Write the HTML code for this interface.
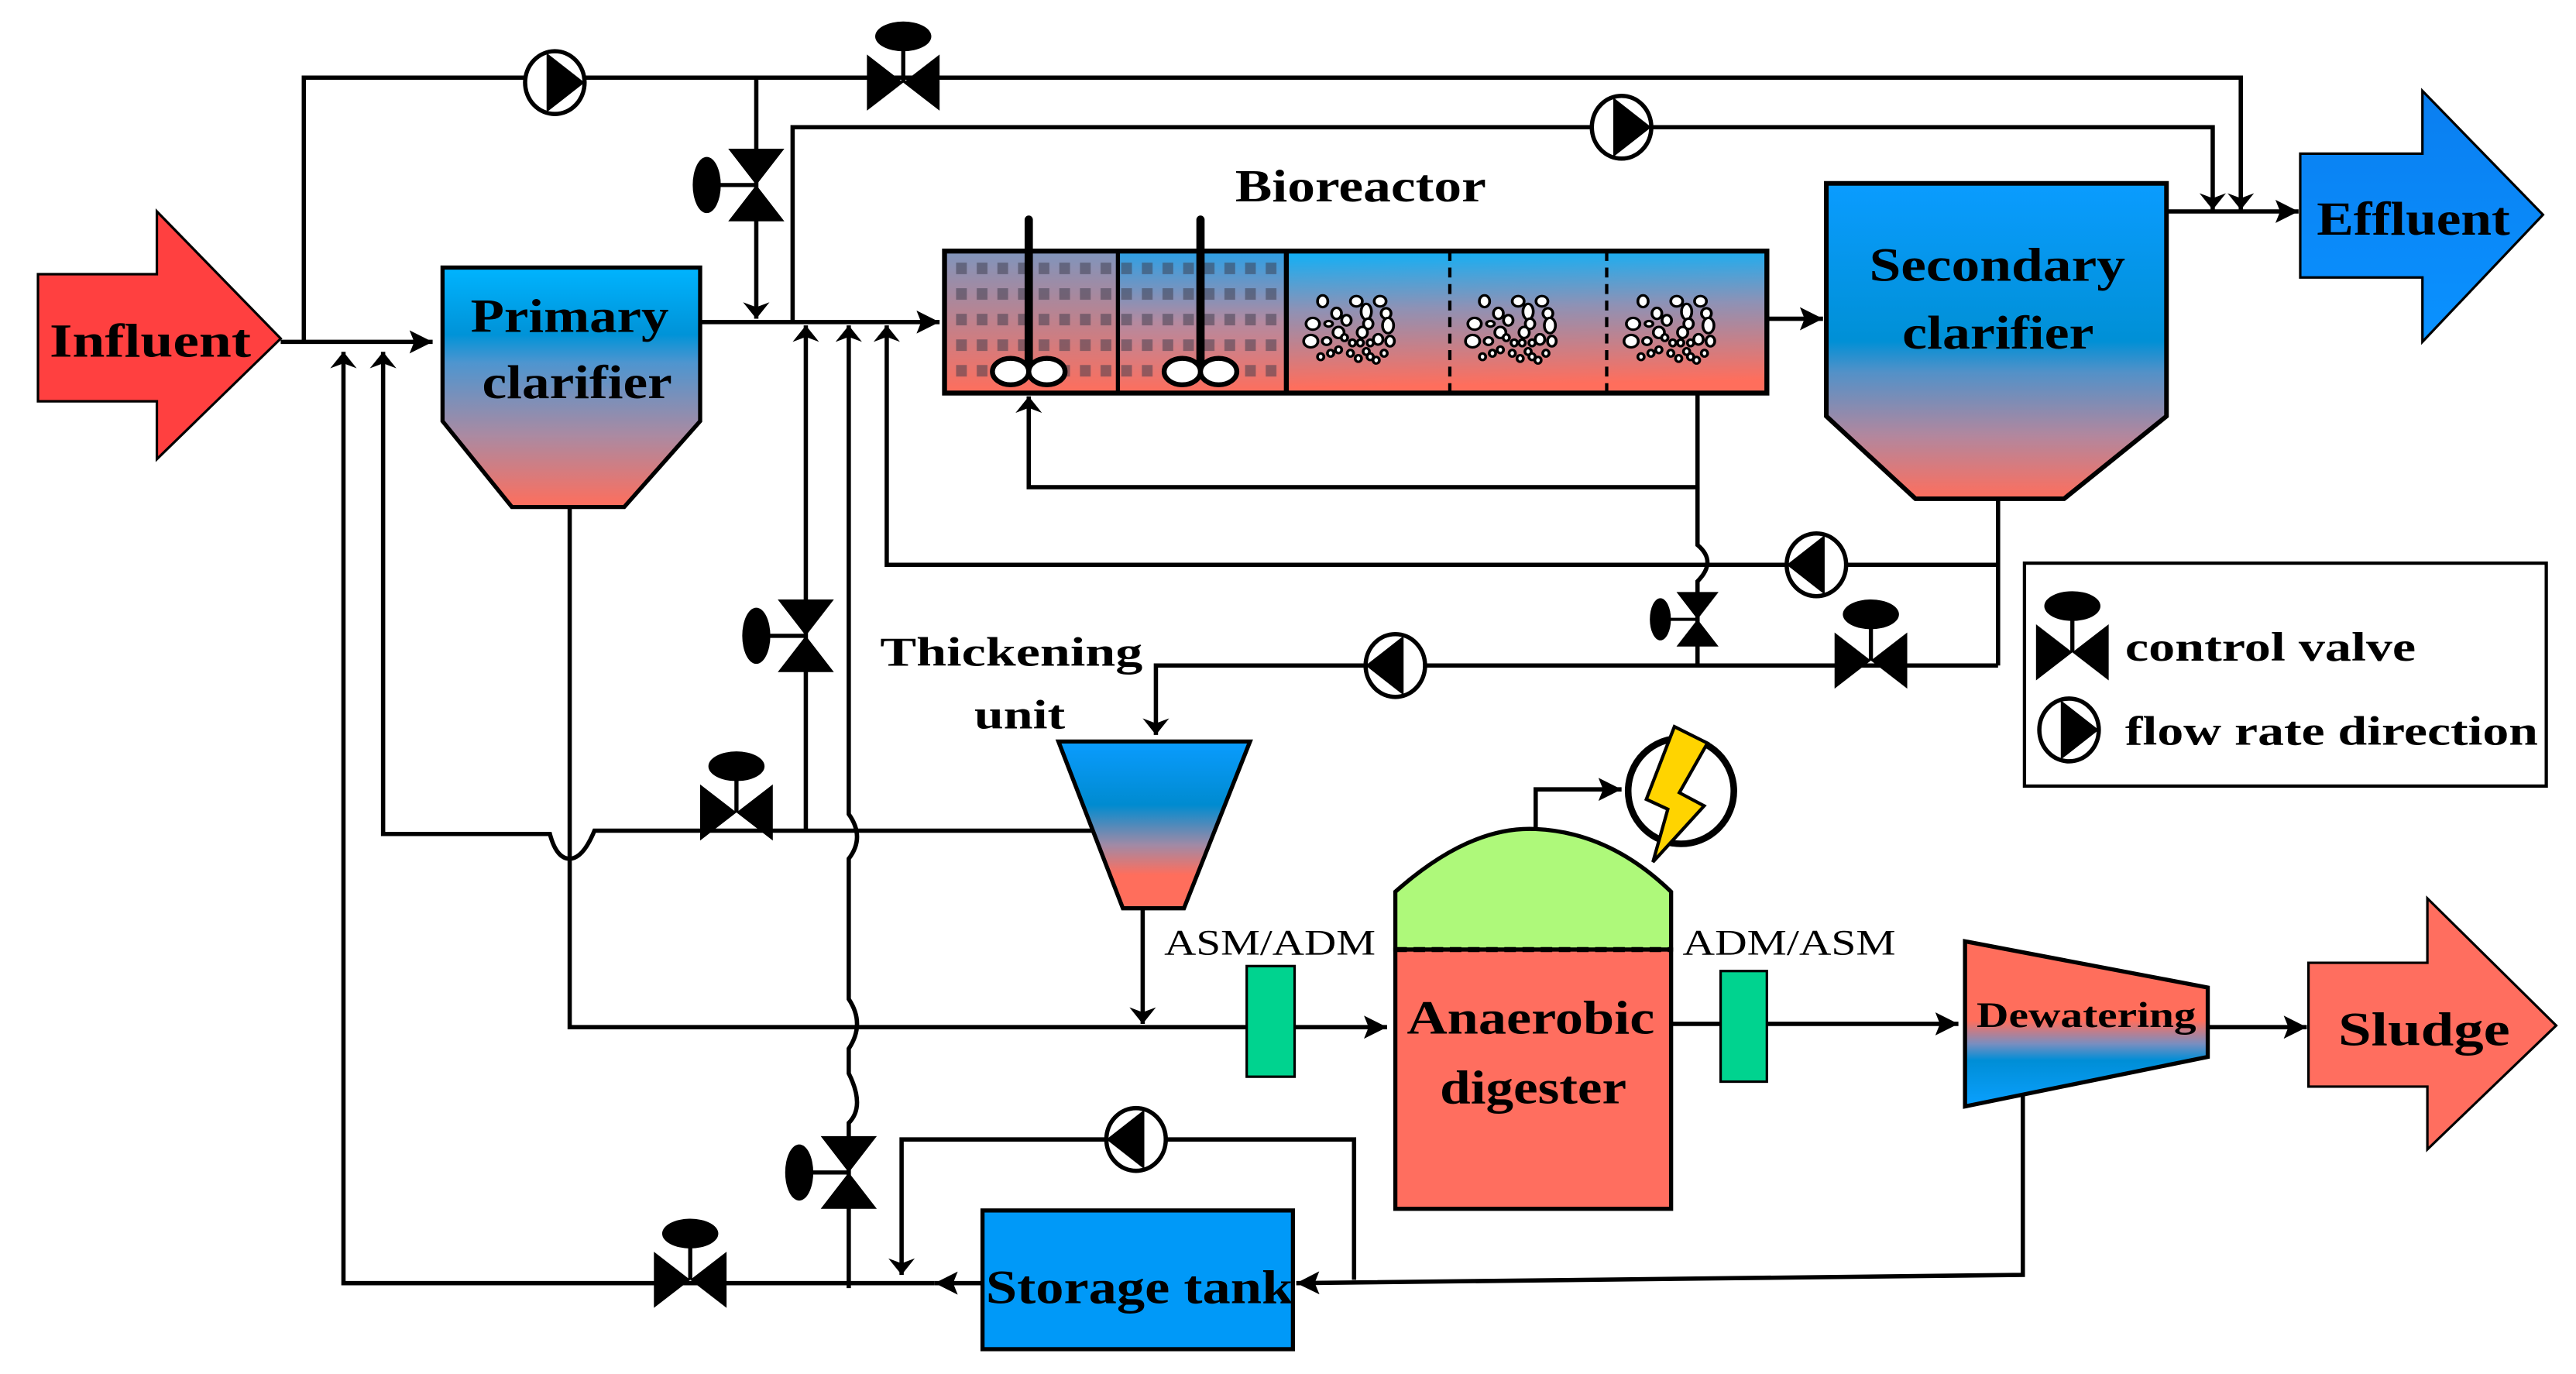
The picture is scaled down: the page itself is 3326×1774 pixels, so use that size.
<!DOCTYPE html>
<html><head><meta charset="utf-8"><style>
html,body{margin:0;padding:0;background:#fff;}
svg{display:block;}
text{font-family:"Liberation Serif",serif;font-weight:bold;fill:#000;}
</style></head><body>
<svg width="3326" height="1774" viewBox="0 0 1560 832" xmlns="http://www.w3.org/2000/svg">
<defs>
<marker id="ah" viewBox="0 0 10 10" refX="10" refY="5" markerWidth="7" markerHeight="7" markerUnits="userSpaceOnUse" orient="auto"><path d="M0,0 L10,5 L0,10 L3,5 z" fill="#000"/></marker>
<marker id="ab" viewBox="0 0 10 10" refX="10" refY="5" markerWidth="14" markerHeight="14" markerUnits="userSpaceOnUse" orient="auto"><path d="M0,0 L10,5 L0,10 L2,5 z" fill="#000"/></marker>
<marker id="an" viewBox="0 0 10 10" refX="10" refY="5" markerWidth="10" markerHeight="16" markerUnits="userSpaceOnUse" orient="auto" preserveAspectRatio="none"><path d="M0,0 L10,5 L0,10 L3,5 z" fill="#000"/></marker>
<linearGradient id="gpc" x1="0" y1="0" x2="0" y2="1"><stop offset="0" stop-color="#00b4ff"/><stop offset="0.28" stop-color="#0093d8"/><stop offset="0.4" stop-color="#4f95cf"/><stop offset="0.7" stop-color="#aa8aa2"/><stop offset="1" stop-color="#ff6e5c"/></linearGradient>
<linearGradient id="gsc" x1="0" y1="0" x2="0" y2="1"><stop offset="0" stop-color="#0a9cff"/><stop offset="0.5" stop-color="#0090d6"/><stop offset="0.6" stop-color="#5391c8"/><stop offset="0.8" stop-color="#b2879e"/><stop offset="1" stop-color="#ff6e5c"/></linearGradient>
<linearGradient id="gbr" x1="0" y1="0" x2="0.1" y2="1"><stop offset="0" stop-color="#00b4ff"/><stop offset="0.45" stop-color="#8d92b6"/><stop offset="1" stop-color="#ff6e5c"/></linearGradient>
<linearGradient id="gbr1" x1="0" y1="0" x2="0" y2="1"><stop offset="0" stop-color="#7f95bd"/><stop offset="1" stop-color="#ff6e5c"/></linearGradient>
<linearGradient id="gbr2" x1="0" y1="0" x2="0" y2="1"><stop offset="0" stop-color="#2ba0e6"/><stop offset="0.5" stop-color="#b48aa0"/><stop offset="1" stop-color="#ff6e5c"/></linearGradient>
<linearGradient id="gth" x1="0" y1="0" x2="0" y2="1"><stop offset="0" stop-color="#0a9cff"/><stop offset="0.38" stop-color="#008bd0"/><stop offset="0.62" stop-color="#a08aa6"/><stop offset="0.8" stop-color="#ff6e5c"/><stop offset="1" stop-color="#ff6e5c"/></linearGradient>
<linearGradient id="gdw" x1="0" y1="0" x2="0" y2="1"><stop offset="0" stop-color="#ff6e5c"/><stop offset="0.48" stop-color="#ff6e5c"/><stop offset="0.62" stop-color="#7a8ec0"/><stop offset="0.72" stop-color="#008ed6"/><stop offset="1" stop-color="#0aa0ff"/></linearGradient>
<linearGradient id="gef" x1="0" y1="0" x2="0" y2="1"><stop offset="0" stop-color="#0a7ef0"/><stop offset="1" stop-color="#0a92ff"/></linearGradient>
<pattern id="sq" x="577" y="156" width="12.5" height="15.5" patternUnits="userSpaceOnUse"><rect x="2" y="3" width="6.5" height="7" fill="#3a3a4a" opacity="0.5"/></pattern>
<g id="bub" fill="#fff" stroke="#000" stroke-width="1.4">
<ellipse cx="-25" cy="-12" rx="2.6" ry="3.4"/><ellipse cx="-8" cy="-12" rx="3" ry="3"/><ellipse cx="4" cy="-12" rx="3" ry="3"/><ellipse cx="-18" cy="-5" rx="2.5" ry="3.2"/><ellipse cx="-3" cy="-6" rx="2.6" ry="4.5"/><ellipse cx="7" cy="-5" rx="2.5" ry="3"/><ellipse cx="8" cy="2" rx="2.8" ry="4.4"/><ellipse cx="-30" cy="1" rx="3.4" ry="3.4"/><ellipse cx="-22" cy="1" rx="2" ry="1.6"/><ellipse cx="-13" cy="-1" rx="2.4" ry="3"/><ellipse cx="-2" cy="1" rx="2.4" ry="3"/><ellipse cx="-17" cy="6" rx="2.8" ry="3.2"/><ellipse cx="-5" cy="6" rx="2.6" ry="3.2"/><ellipse cx="-31" cy="11" rx="3.6" ry="3.6"/><ellipse cx="-23" cy="11" rx="2.2" ry="2.2"/><ellipse cx="-14" cy="9" rx="1.6" ry="1.9"/><ellipse cx="-10" cy="12" rx="1.6" ry="1.9"/><ellipse cx="-6" cy="12" rx="1.6" ry="1.9"/><ellipse cx="-1" cy="12" rx="1.6" ry="1.9"/><ellipse cx="3" cy="10" rx="2.4" ry="3"/><ellipse cx="9" cy="11" rx="2.2" ry="3"/><ellipse cx="-17" cy="16" rx="1.6" ry="1.9"/><ellipse cx="-11" cy="18" rx="1.6" ry="1.9"/><ellipse cx="-3" cy="17" rx="1.6" ry="1.9"/><ellipse cx="6" cy="18" rx="1.6" ry="1.9"/><ellipse cx="-26" cy="20" rx="1.6" ry="1.9"/><ellipse cx="-21" cy="18" rx="1.6" ry="1.9"/><ellipse cx="-7" cy="21" rx="1.6" ry="1.9"/><ellipse cx="-1" cy="20" rx="1.6" ry="1.9"/><ellipse cx="2" cy="22" rx="1.6" ry="1.9"/>
</g>
<g id="vh"><path d="M-22,-17 L0,0 L-22,17 Z M22,-17 L0,0 L22,17 Z" fill="#000"/><line x1="0" y1="0" x2="0" y2="-24" stroke="#000" stroke-width="2.5"/><ellipse cx="0" cy="-28" rx="17" ry="9" fill="#000"/></g>
<g id="vv"><path d="M-17,-22 L0,0 L17,-22 Z M-17,22 L0,0 L17,22 Z" fill="#000"/><line x1="0" y1="0" x2="-26" y2="0" stroke="#000" stroke-width="2.5"/><ellipse cx="-30" cy="0" rx="8.5" ry="17" fill="#000"/></g>
<g id="pr"><ellipse cx="0" cy="0" rx="18" ry="19" fill="#fff" stroke="#000" stroke-width="2.6"/><path d="M-5,-18 L18,0 L-5,18 Z" fill="#000"/></g>
</defs>

<g fill="none" stroke="#000" stroke-width="2.6">
<path d="M170,207 H262" marker-end="url(#ab)"/>
<path d="M184,207 V47 H1357 V127" marker-end="url(#an)"/>
<path d="M424,195 H569" marker-end="url(#ab)"/>
<path d="M458,47 V193" marker-end="url(#an)"/>
<path d="M480,195 V77 H1340 V127" marker-end="url(#an)"/>
<path d="M1312,128 H1392" marker-end="url(#ab)"/>
<path d="M1070,193 H1104" marker-end="url(#ab)"/>
<path d="M1028,238 V295 H623 V240" marker-end="url(#an)"/>
<path d="M1028,295 V330 Q1040,340 1028,352 V402"/>
<path d="M1210,302 V403"/>
<path d="M1210,342 H537 V197" marker-end="url(#an)"/>
<path d="M1210,403 H700 V445" marker-end="url(#an)"/>
<path d="M680,503 H360 Q353,520 345,520 Q337,520 333,505 H232 V213" marker-end="url(#an)"/>
<path d="M488,503 V197" marker-end="url(#an)"/>
<path d="M514,780 V680 Q524,670 514,650 V635 Q524,620 514,605 V520 Q524,507 514,493 V197" marker-end="url(#an)"/>
<path d="M345,307 V622 H840" marker-end="url(#ab)"/>
<path d="M692,550 V620" marker-end="url(#an)"/>
<path d="M1012,620 H1186" marker-end="url(#ab)"/>
<path d="M1337,622 H1397" marker-end="url(#ab)"/>
<path d="M930,516 V478 H982" marker-end="url(#ab)"/>
<path d="M1225,660 V772 L785,777" marker-end="url(#ab)"/>
<path d="M820,775 V690 H546 V772" marker-end="url(#an)"/>
<path d="M595,777 H566" marker-end="url(#ab)"/>
<path d="M566,777 H208 V213" marker-end="url(#an)"/>
</g>

<path d="M23,166 H95 V128 L170,205 L95,278 V243 H23 Z" fill="#ff4040" stroke="#000" stroke-width="1.5"/>
<text x="30" y="216" font-size="29" textLength="122" lengthAdjust="spacingAndGlyphs">Influent</text>

<path d="M268,162 H424 V255 L378,307 H310 L268,255 Z" fill="url(#gpc)" stroke="#000" stroke-width="2.5"/>
<text x="285" y="201" font-size="29" textLength="120" lengthAdjust="spacingAndGlyphs">Primary</text>
<text x="292" y="241" font-size="29" textLength="115" lengthAdjust="spacingAndGlyphs">clarifier</text>

<text x="748" y="122" font-size="28" textLength="152" lengthAdjust="spacingAndGlyphs">Bioreactor</text>
<rect x="572" y="152" width="498" height="86" fill="url(#gbr)"/>
<rect x="572" y="152" width="105" height="86" fill="url(#gbr1)"/>
<rect x="677" y="152" width="102" height="86" fill="url(#gbr2)"/>
<rect x="574" y="154" width="203" height="82" fill="url(#sq)"/>
<use href="#bub" transform="translate(831,195) scale(1.2,1.05)"/>
<use href="#bub" transform="translate(929,195) scale(1.2,1.05)"/>
<use href="#bub" transform="translate(1025,195) scale(1.2,1.05)"/>
<rect x="572" y="152" width="498" height="86" fill="none" stroke="#000" stroke-width="3"/>
<line x1="677" y1="152" x2="677" y2="238" stroke="#000" stroke-width="2.5"/>
<line x1="779" y1="152" x2="779" y2="238" stroke="#000" stroke-width="3"/>
<line x1="878" y1="152" x2="878" y2="238" stroke="#000" stroke-width="2" stroke-dasharray="6,4"/>
<line x1="973" y1="152" x2="973" y2="238" stroke="#000" stroke-width="2" stroke-dasharray="6,4"/>
<line x1="623" y1="133" x2="623" y2="224" stroke="#000" stroke-width="5" stroke-linecap="round"/>
<line x1="727" y1="133" x2="727" y2="224" stroke="#000" stroke-width="5" stroke-linecap="round"/>
<g fill="#fff" stroke="#000" stroke-width="3">
<ellipse cx="612" cy="225" rx="11" ry="8"/><ellipse cx="634" cy="225" rx="11" ry="8"/>
<ellipse cx="716" cy="225" rx="11" ry="8"/><ellipse cx="738" cy="225" rx="11" ry="8"/>
</g>

<path d="M1106,111 H1312 V252 L1250,302 H1160 L1106,252 Z" fill="url(#gsc)" stroke="#000" stroke-width="2.8"/>
<text x="1132" y="170" font-size="29" textLength="155" lengthAdjust="spacingAndGlyphs">Secondary</text>
<text x="1152" y="211" font-size="29" textLength="116" lengthAdjust="spacingAndGlyphs">clarifier</text>

<path d="M1393,93 H1467 V55 L1540,130 L1467,207 V168 H1393 Z" fill="url(#gef)" stroke="#000" stroke-width="1.5"/>
<text x="1403" y="142" font-size="29" textLength="117" lengthAdjust="spacingAndGlyphs">Effluent</text>

<use href="#vh" x="547" y="50"/>
<use href="#vv" x="458" y="112"/>
<use href="#vv" x="488" y="385"/>
<use href="#vh" x="446" y="492"/>
<use href="#vv" transform="translate(1028,375) scale(0.75)"/>
<use href="#vh" x="1133" y="400"/>
<use href="#vv" x="514" y="710"/>
<use href="#vh" x="418" y="775"/>

<use href="#pr" x="336" y="50"/>
<use href="#pr" x="982" y="77"/>
<use href="#pr" transform="translate(1100,342) scale(-1,1)"/>
<use href="#pr" transform="translate(845,403) scale(-1,1)"/>
<use href="#pr" transform="translate(688,690) scale(-1,1)"/>

<rect x="1226" y="341" width="316" height="135" fill="#fff" stroke="#000" stroke-width="2"/>
<use href="#vh" x="1255" y="395"/>
<text x="1287" y="400" font-size="25" textLength="176" lengthAdjust="spacingAndGlyphs">control valve</text>
<use href="#pr" x="1253" y="442"/>
<text x="1287" y="451" font-size="25" textLength="250" lengthAdjust="spacingAndGlyphs">flow rate direction</text>

<text x="533" y="403" font-size="25" textLength="159" lengthAdjust="spacingAndGlyphs">Thickening</text>
<text x="590" y="441" font-size="25" textLength="55" lengthAdjust="spacingAndGlyphs">unit</text>
<path d="M641,449 H757 L717,550 H680 Z" fill="url(#gth)" stroke="#000" stroke-width="2.5"/>

<text x="705" y="578" font-size="22" textLength="128" lengthAdjust="spacingAndGlyphs" style="font-weight:normal">ASM/ADM</text>
<rect x="755" y="585" width="29" height="67" fill="#00d38f" stroke="#000" stroke-width="1.5"/>
<text x="1019" y="578" font-size="22" textLength="129" lengthAdjust="spacingAndGlyphs" style="font-weight:normal">ADM/ASM</text>
<rect x="1042" y="588" width="28" height="67" fill="#00d38f" stroke="#000" stroke-width="1.5"/>

<path d="M845,540 Q890,500 930,502 Q975,504 1012,540 V575 H845 Z" fill="#aef97a" stroke="#000" stroke-width="2.5"/>
<rect x="845" y="575" width="167" height="157" fill="#ff6e5f" stroke="#000" stroke-width="2.5"/>
<line x1="845" y1="575" x2="1012" y2="575" stroke="#000" stroke-width="3" stroke-dasharray="7,4"/>
<text x="852" y="626" font-size="29" textLength="150" lengthAdjust="spacingAndGlyphs">Anaerobic</text>
<text x="872" y="668" font-size="29" textLength="113" lengthAdjust="spacingAndGlyphs">digester</text>

<circle cx="1018" cy="479" r="32" fill="#fff" stroke="#000" stroke-width="4"/>
<path d="M1014,440 L1034,450 L1017,480 L1032,488 L1001,522 L1010,490 L997,484 Z" fill="#ffd400" stroke="#000" stroke-width="2"/>

<path d="M1190,570 L1337,598 V640 L1190,670 Z" fill="url(#gdw)" stroke="#000" stroke-width="2.5"/>
<text x="1197" y="622" font-size="22" textLength="133" lengthAdjust="spacingAndGlyphs">Dewatering</text>

<path d="M1398,583 H1470 V544 L1548,621 L1470,696 V658 H1398 Z" fill="#ff6e5f" stroke="#000" stroke-width="1.5"/>
<text x="1416" y="633" font-size="29" textLength="104" lengthAdjust="spacingAndGlyphs">Sludge</text>

<rect x="595" y="733" width="188" height="84" fill="#0099f8" stroke="#000" stroke-width="2.5"/>
<text x="597" y="789" font-size="29" textLength="186" lengthAdjust="spacingAndGlyphs">Storage tank</text>
</svg>
</body></html>
